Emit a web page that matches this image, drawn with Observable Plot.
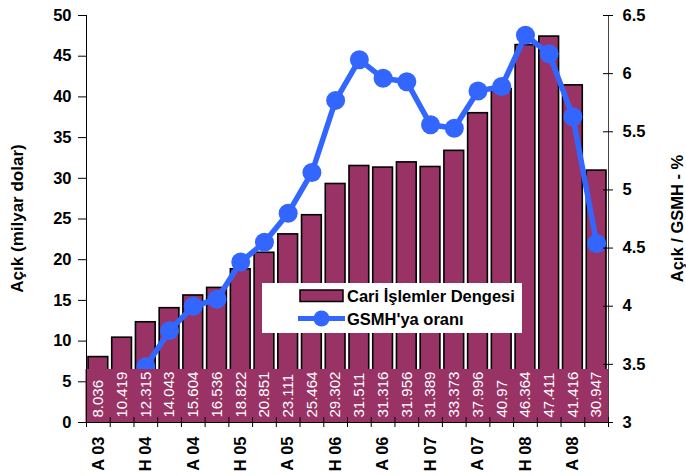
<!DOCTYPE html>
<html>
<head>
<meta charset="utf-8">
<script src="https://cdn.jsdelivr.net/npm/d3@7"></script>
<script src="https://cdn.jsdelivr.net/npm/@observablehq/plot@0.6"></script>
<style>
  body { margin: 0; background: #fff; }
  #chart svg { display: block; }
</style>
</head>
<body>
<div id="chart"></div>
<script>
// Quarter labels (A = Aralık, M = Mart, H = Haziran, E = Eylül)
const quarters = ["A 03","M 04","H 04","E 04","A 04","M 05","H 05","E 05","A 05","M 06","H 06","E 06","A 06","M 07","H 07","E 07","A 07","M 08","H 08","E 08","A 08","M 09"];
// Cari İşlemler Dengesi (milyar dolar)
const deficit = [8.036,10.419,12.315,14.043,15.604,16.536,18.822,20.851,23.111,25.464,29.302,31.511,31.316,31.956,31.389,33.373,37.996,40.97,46.364,47.411,41.416,30.947];
// GSMH'ya oranı (%)
const ratio = [2.67,3.07,3.48,3.79,4.00,4.06,4.38,4.55,4.80,5.15,5.77,6.12,5.96,5.93,5.56,5.53,5.85,5.89,6.33,6.17,5.63,4.54];
const leftTicks = [0,5,10,15,20,25,30,35,40,45,50];
const rightTicks = [3,3.5,4,4.5,5,5.5,6,6.5];
const labeledQuarters = ["A 03","H 04","A 04","H 05","A 05","H 06","A 06","H 07","A 07","H 08","A 08"];

const seriesBar = "Cari İşlemler Dengesi";
const seriesLine = "GSMH'ya oranı";
const leftTitle = "Açık (milyar dolar)";
const rightTitle = "Açık / GSMH - %";

const maroon = "#993366", blue = "#3366FF";
const yMax = 50, rMin = 3, rMax = 6.5;
const toLeft = v => (v - rMin) / (rMax - rMin) * yMax;
const fromLeft = d => +(rMin + d / yMax * (rMax - rMin)).toFixed(2);

const data = quarters.map((q, i) => ({i, q, deficit: deficit[i], ratio: ratio[i]}));
const boundaries = d3.range(quarters.length + 1).map(i => i - 0.5);
const labeledIdx = labeledQuarters.map(q => quarters.indexOf(q));
const xLo = -0.5, xHi = quarters.length - 0.5;

const plot = Plot.plot({
  width: 686,
  height: 476,
  marginLeft: 86,
  marginRight: 78,
  marginTop: 15,
  marginBottom: 54,
  style: {fontFamily: "Arial, 'Liberation Sans', sans-serif", fontSize: "16px", fontWeight: "bold", color: "#000", background: "#fff"},
  x: {domain: [xLo, xHi]},
  y: {domain: [0, yMax]},
  marks: [
    Plot.rectY(data, {x1: d => d.i - 0.5, x2: d => d.i + 0.5, y: "deficit", insetLeft: 2, insetRight: 2, fill: maroon, stroke: "#000", strokeWidth: 1.6}),
    Plot.line(data, {x: "i", y: d => toLeft(d.ratio), stroke: blue, strokeWidth: 5.5, clip: true}),
    Plot.dot(data, {x: "i", y: d => toLeft(d.ratio), r: 9.5, fill: blue, stroke: "none", clip: true}),
    Plot.rect(data, {x1: d => d.i - 0.5, x2: d => d.i + 0.5, y1: 0, y2: 0, insetTop: -53, insetLeft: -0.6, insetRight: -0.6, fill: maroon}),
    Plot.text(data, {x: "i", y: 0, text: d => String(d.deficit), rotate: -90, textAnchor: "start", lineAnchor: "middle", dy: -5, fill: "white", fontSize: 15, fontWeight: "normal"}),
    Plot.ruleY([0], {stroke: "#000", strokeWidth: 1}),
    Plot.ruleX([xLo], {stroke: "#000", strokeWidth: 1}),
    Plot.ruleX([xHi], {stroke: "#444", strokeWidth: 1}),
    Plot.ruleX(boundaries, {y1: 0, y2: 0, insetTop: -5, insetBottom: -5, stroke: "#000", strokeWidth: 1}),
    Plot.ruleY(leftTicks, {x1: xLo, x2: xLo, insetLeft: -8, insetRight: -1, stroke: "#000"}),
    Plot.ruleY(rightTicks.map(toLeft), {x1: xHi, x2: xHi, insetLeft: -5, insetRight: -5, stroke: "#000"}),
    Plot.axisY({ticks: leftTicks, tickSize: 0, tickPadding: 15, label: null, fontSize: 16.5, fontWeight: "bold"}),
    Plot.axisY({anchor: "right", ticks: rightTicks.map(toLeft), tickFormat: fromLeft, tickSize: 0, tickPadding: 14, label: null, fontSize: 16.5, fontWeight: "bold"}),
    Plot.axisX({ticks: labeledIdx, tickFormat: i => quarters[i], tickRotate: -90, tickSize: 0, tickPadding: 14, label: null, fontSize: 16.5, fontWeight: "bold"})
  ]
});

document.getElementById("chart").appendChild(plot);

const svg = d3.select(plot);
const font = "Arial, 'Liberation Sans', sans-serif";
// Axis titles
svg.append("text")
  .attr("transform", "translate(17,218.5) rotate(-90)")
  .attr("text-anchor", "middle").attr("dominant-baseline", "central")
  .style("font", `bold 17px ${font}`).attr("fill", "#000")
  .text(leftTitle);
svg.append("text")
  .attr("transform", "translate(677,218.5) rotate(-90)")
  .attr("text-anchor", "middle").attr("dominant-baseline", "central")
  .style("font", `bold 16.5px ${font}`).attr("fill", "#000")
  .text(rightTitle);

// Legend
const lg = svg.append("g").attr("text-anchor", "start");
lg.append("rect").attr("x", 262).attr("y", 283).attr("width", 260).attr("height", 50).attr("fill", "#fff");
lg.append("rect").attr("x", 300).attr("y", 290).attr("width", 43).attr("height", 11.5)
  .attr("fill", maroon).attr("stroke", "#000").attr("stroke-width", 1.5);
lg.append("text").attr("x", 347).attr("y", 301.5).attr("text-anchor", "start")
  .style("font", `bold 16.5px ${font}`).attr("fill", "#000").text(seriesBar);
lg.append("line").attr("x1", 298).attr("x2", 345).attr("y1", 318.5).attr("y2", 318.5)
  .attr("stroke", blue).attr("stroke-width", 5);
lg.append("circle").attr("cx", 321.5).attr("cy", 318.5).attr("r", 8).attr("fill", blue);
lg.append("text").attr("x", 347).attr("y", 325).attr("text-anchor", "start")
  .style("font", `bold 16.5px ${font}`).attr("fill", "#000").text(seriesLine);
</script>
</body>
</html>
